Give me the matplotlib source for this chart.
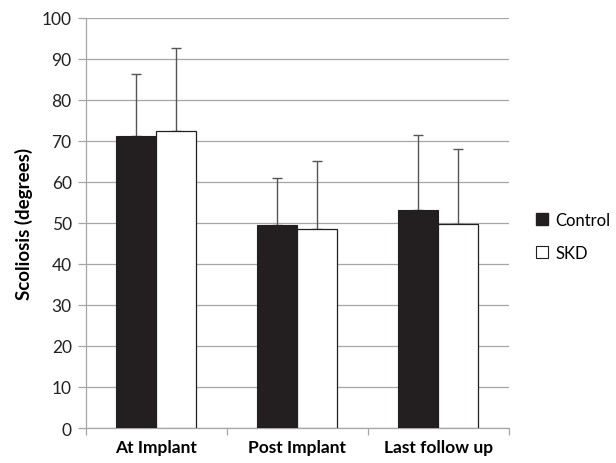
import matplotlib.pyplot as plt
import numpy as np
from matplotlib.lines import Line2D

categories = ["At Implant", "Post Implant", "Last follow up"]
control    = [71.2, 49.5, 53.1]
control_sd = [15.0, 11.5, 18.4]
skd        = [72.4, 48.4, 49.6]
skd_sd     = [20.2, 16.6, 18.4]

plt.rcParams["font.family"] = ["Lato", "DejaVu Sans"]

fig = plt.figure(figsize=(6.16, 4.64), dpi=100)
ax = fig.add_axes([0.139, 0.0754, 0.687, 0.8846])

x = np.arange(len(categories))
w = 0.285
ax.bar(x - w / 2, control, w, color="#231f20", edgecolor="#231f20", linewidth=0.8, zorder=3)
ax.bar(x + w / 2, skd, w, color="white", edgecolor="#231f20", linewidth=0.9, zorder=3)

ax.errorbar(x - w / 2, control, yerr=[np.zeros(3), control_sd], fmt="none",
            ecolor="#555555", elinewidth=1.0, capsize=3.5, capthick=1.0, zorder=2)
ax.errorbar(x + w / 2, skd, yerr=[np.zeros(3), skd_sd], fmt="none",
            ecolor="#555555", elinewidth=1.0, capsize=3.5, capthick=1.0, zorder=2)

ax.set_xlim(-0.5, 2.5)
ax.set_ylim(0, 100)
ax.set_yticks(np.arange(0, 101, 10))
ax.yaxis.grid(True, color="#a6a6a6", linewidth=0.9, zorder=0)
ax.set_axisbelow(True)

ax.set_xticks([-0.5, 0.5, 1.5, 2.5], minor=False)
ax.set_xticklabels([])
ax.set_xticks(x, minor=True)
ax.set_xticklabels(categories, minor=True, fontsize=12.5, fontweight="bold")
ax.tick_params(axis="x", which="minor", length=0, pad=8)
ax.tick_params(axis="x", which="major", length=5, color="#a6a6a6", width=0.9)
ax.tick_params(axis="y", length=6, color="#a6a6a6", width=0.9, labelsize=12.5, pad=4, labelcolor="#222222")

for s in ["top", "right"]:
    ax.spines[s].set_visible(False)
for s in ["left", "bottom"]:
    ax.spines[s].set_color("#a6a6a6")
    ax.spines[s].set_linewidth(0.9)

ax.set_ylabel("Scoliosis (degrees)", fontsize=13.5, fontweight="bold", labelpad=6)

handles = [
    Line2D([], [], marker="s", linestyle="none", markersize=8,
           markerfacecolor="#231f20", markeredgecolor="#231f20"),
    Line2D([], [], marker="s", linestyle="none", markersize=8,
           markerfacecolor="white", markeredgecolor="#231f20", markeredgewidth=0.8),
]
fig.legend(handles, ["Control", "SKD"], loc="center left", bbox_to_anchor=(0.856, 0.488),
           frameon=False, fontsize=12, handletextpad=0.3, labelspacing=1.05, handlelength=1.0,
           borderaxespad=0.0)

fig.savefig("out.png", dpi=100)
